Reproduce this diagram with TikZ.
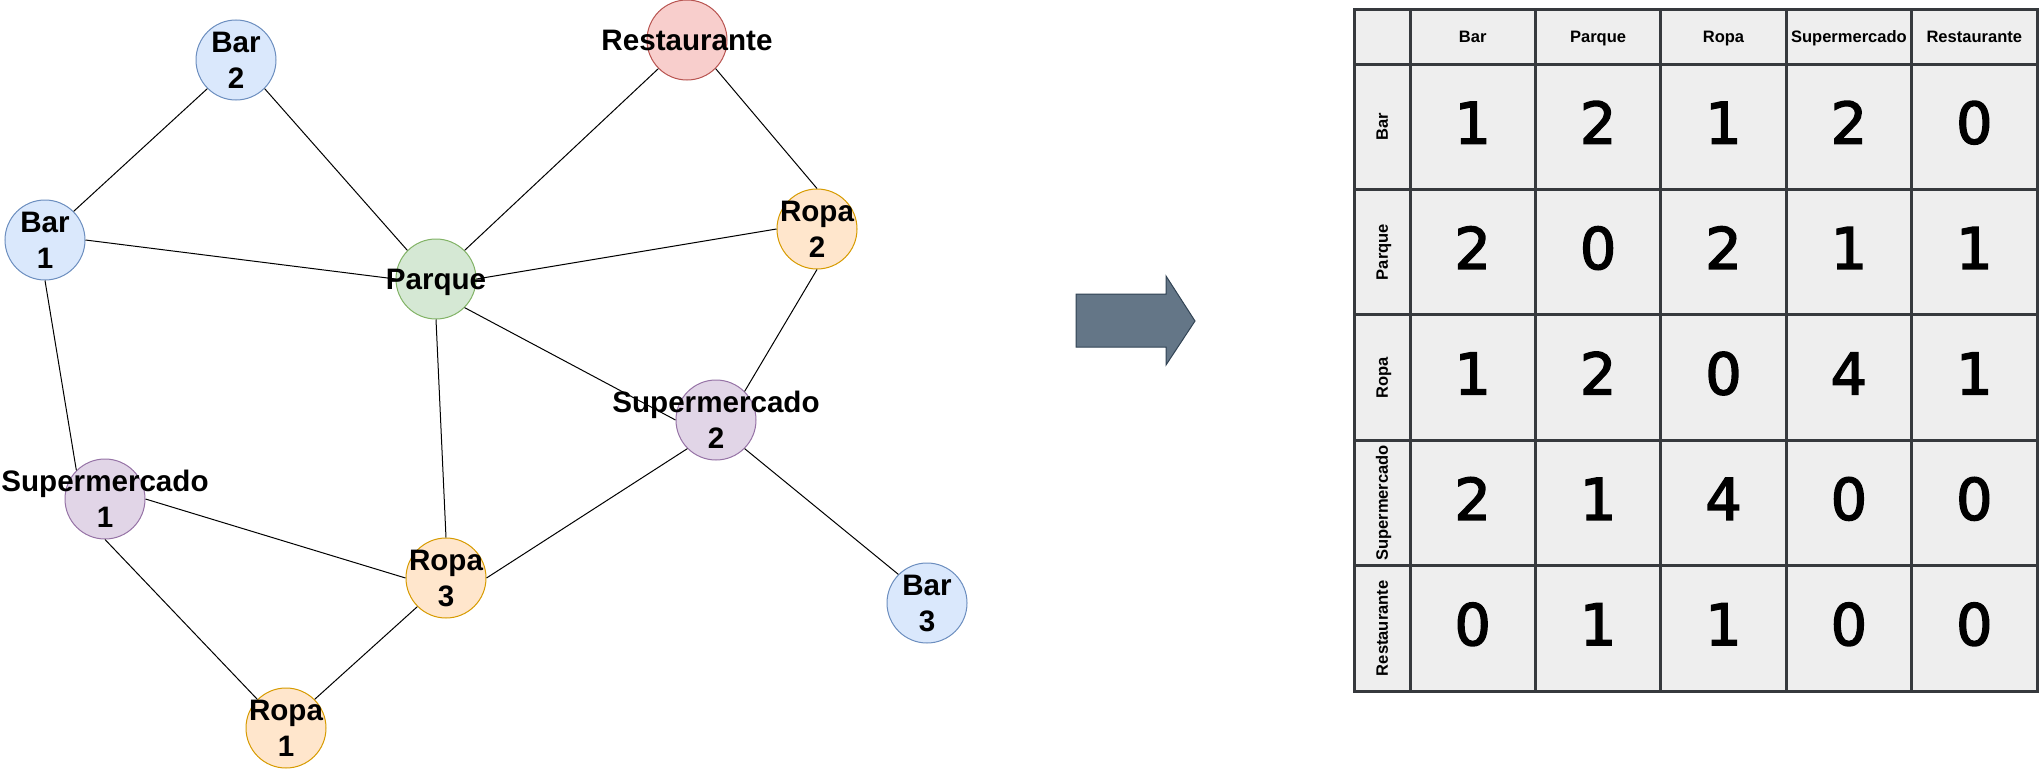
\documentclass[tikz,border=0pt]{standalone}
\usepackage{fontspec}
\setmainfont{Liberation Sans}
\newfontfamily\digitfont{DejaVu Sans}
\newcommand\heavydigit[1]{\special{pdf:literal direct 2 Tr 1.1 w}#1\special{pdf:literal direct 0 Tr}}
\definecolor{cBlueF}{HTML}{DAE8FC}\definecolor{cBlueS}{HTML}{6C8EBF}
\definecolor{cRedF}{HTML}{F8CECC}\definecolor{cRedS}{HTML}{B85450}
\definecolor{cGreenF}{HTML}{D5E8D4}\definecolor{cGreenS}{HTML}{82B366}
\definecolor{cPurF}{HTML}{E1D5E7}\definecolor{cPurS}{HTML}{9673A6}
\definecolor{cOrF}{HTML}{FFE6CC}\definecolor{cOrS}{HTML}{D79B00}
\definecolor{cTab}{HTML}{EEEEEE}\definecolor{cTabS}{HTML}{36393D}
\definecolor{cArrF}{HTML}{647687}\definecolor{cArrS}{HTML}{314354}
\begin{document}
\begin{tikzpicture}[x=0.75pt,y=-0.75pt,
  vtx/.style={circle,line width=0.75pt,minimum size=60pt,inner sep=0pt},
  bluev/.style={vtx,fill=cBlueF,draw=cBlueS},
  redv/.style={vtx,fill=cRedF,draw=cRedS},
  greenv/.style={vtx,fill=cGreenF,draw=cGreenS},
  purv/.style={vtx,fill=cPurF,draw=cPurS},
  orv/.style={vtx,fill=cOrF,draw=cOrS},
  lbl/.style={align=center,inner sep=0pt,font=\bfseries\fontsize{22.2}{27}\selectfont},
  edge/.style={draw=black,line width=0.75pt},
  tabline/.style={draw=cTabS,line width=2.25pt,line cap=rect},
  hdr/.style={inner sep=0pt,text height=8.9pt,text depth=0pt,font=\bfseries\fontsize{12.4}{14}\selectfont},
  num/.style={inner sep=0pt,text height=31.3pt,text depth=0pt,text=black,draw=none,font=\digitfont\fontsize{43}{50}\selectfont}]
\useasboundingbox[fill=white] (0,0) rectangle (2044,771);

% vertices
\node[bluev]  (bar2)   at (236,60)  {};
\node[redv]   (rest)   at (687,40)  {};
\node[bluev]  (bar1)   at (45,240)  {};
\node[orv]    (ropa2)  at (817,229) {};
\node[greenv] (parque) at (436,279) {};
\node[purv]   (sup2)   at (716,420) {};
\node[purv]   (sup1)   at (105,499) {};
\node[orv]    (ropa3)  at (446,578) {};
\node[bluev]  (bar3)   at (927,603) {};
\node[orv]    (ropa1)  at (286,728) {};

% edges
\draw[edge] (bar2.225) -- (bar1.45);
\draw[edge] (bar2.315) -- (parque.135);
\draw[edge] (bar1.east) -- (parque.west);
\draw[edge] (bar1.south) -- (sup1.135);
\draw[edge] (rest.225) -- (parque.45);
\draw[edge] (rest.315) -- (ropa2.north);
\draw[edge] (ropa2.west) -- (parque.east);
\draw[edge] (ropa2.south) -- (sup2.45);
\draw[edge] (parque.315) -- (sup2.west);
\draw[edge] (parque.south) -- (ropa3.north);
\draw[edge] (sup2.225) -- (ropa3.east);
\draw[edge] (sup2.315) -- (bar3.135);
\draw[edge] (sup1.east) -- (ropa3.west);
\draw[edge] (sup1.south) -- (ropa1.135);
\draw[edge] (ropa3.225) -- (ropa1.45);

% labels
\node[lbl] (bar2t) at (bar2) {Bar\\2};
\node[lbl] (restt) at (rest) {Restaurante};
\node[lbl] (bar1t) at (bar1) {Bar\\1};
\node[lbl] (ropa2t) at (ropa2) {Ropa\\2};
\node[lbl,anchor=base] (parquet) at (436,289.5) {Parque};
\node[lbl] (sup2t) at (sup2) {Supermercado\\2};
\node[lbl] (sup1t) at (sup1) {Supermercado\\1};
\node[lbl] (ropa3t) at (ropa3) {Ropa\\3};
\node[lbl] (bar3t) at (bar3) {Bar\\3};
\node[lbl] (ropa1t) at (ropa1) {Ropa\\1};

% arrow
\draw[fill=cArrF,draw=cArrS,line width=0.75pt]
  (1076,294) -- (1166,294) -- (1166,276) -- (1195,321) -- (1166,365) -- (1166,347) -- (1076,347) -- cycle;

% table
\fill[cTab] (1354,9) rectangle (2037,691);
\foreach \xx in {1354,1410,1535.4,1660.8,1786.2,1911.6,2037}
  \draw[tabline] (\xx,9) -- (\xx,691);
\foreach \yy in {9,64,189.4,314.8,440.2,565.6,691}
  \draw[tabline] (1354,\yy) -- (2037,\yy);

\foreach \t [count=\c] in {Bar,Parque,Ropa,Supermercado,Restaurante}{
  \node[hdr] (col-\c) at ({1410+(\c-0.5)*125.4},36.5) {\t};
  \node[hdr,rotate=90] (row-\c) at (1382,{64+(\c-0.5)*125.4}) {\t};
}
\foreach \vals [count=\r] in {{1,2,1,2,0},{2,0,2,1,1},{1,2,0,4,1},{2,1,4,0,0},{0,1,1,0,0}}{
  \foreach \v [count=\c] in \vals {
    \node[num] (m-\r-\c) at ({1410+(\c-0.5)*125.4},{64+(\r-0.5)*125.4-4}) {\heavydigit{\v}};
  }
}
\end{tikzpicture}
\end{document}
